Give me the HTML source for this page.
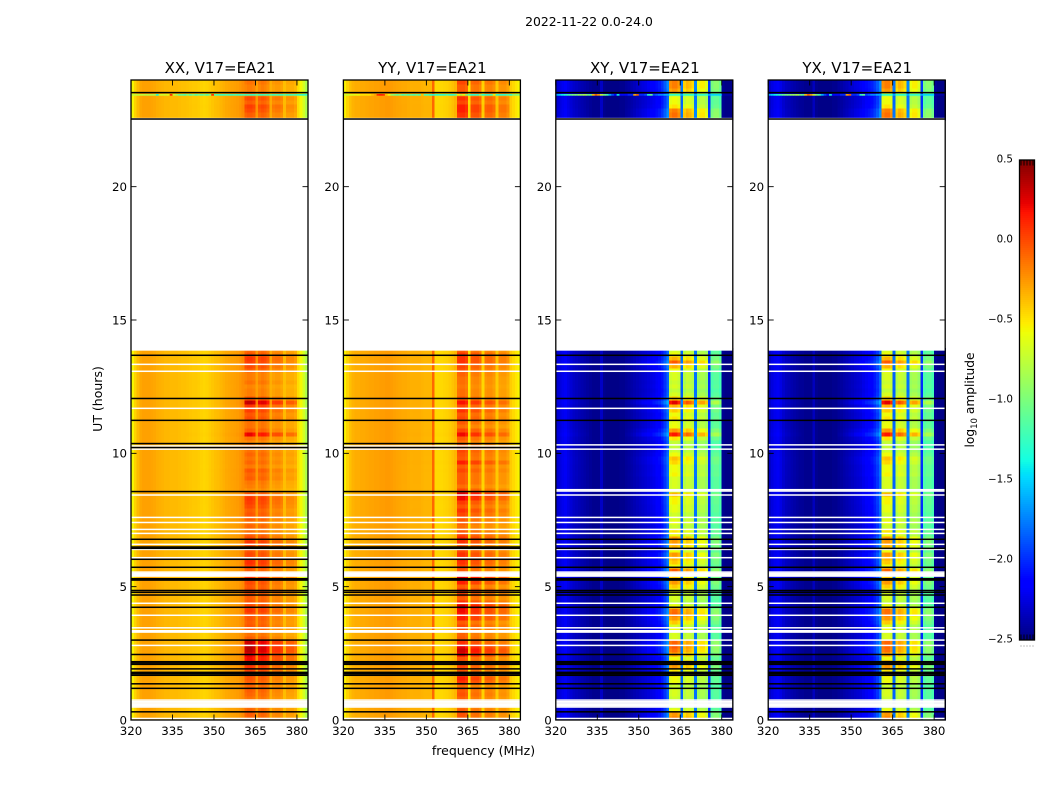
<!DOCTYPE html>
<html lang="en">
<head>
<meta charset="utf-8">
<title>2022-11-22 0.0-24.0</title>
<style>
html,body{margin:0;padding:0;background:#fff;}
svg{display:block;}
text{font-family:"DejaVu Sans","Liberation Sans",sans-serif;fill:#000;}
</style>
</head>
<body>
<svg id="chart" xmlns="http://www.w3.org/2000/svg" width="1050" height="800" viewBox="0 0 1050 800">
<rect width="1050" height="800" fill="#fff"/>
<text x="589" y="26" font-size="12.4" text-anchor="middle">2022-11-22 0.0-24.0</text>
<text transform="translate(102,399) rotate(-90)" font-size="12.5" text-anchor="middle">UT (hours)</text>
<text x="483.5" y="755" font-size="12.5" text-anchor="middle">frequency (MHz)</text>
<text transform="translate(974,400) rotate(-90)" font-size="12.2" text-anchor="middle">log<tspan font-size="8.6" dy="3">10</tspan><tspan dy="-3"> amplitude</tspan></text>
<g id="panels"></g>
<g id="colorbar"></g>
</svg>
<script>
// ---- chart data -------------------------------------------------------
const panelNames = ["XX, V17=EA21", "YY, V17=EA21", "XY, V17=EA21", "YX, V17=EA21"];
const xTickLabels = [320, 335, 350, 365, 380];
const yTickLabels = [0, 5, 10, 15, 20];
const colorbarTickLabels = [0.5, 0.0, -0.5, -1.0, -1.5, -2.0, -2.5];

// log10 amplitude per 1 MHz channel (320-384 MHz)
const profileXX = [-0.55,-0.44,-0.36,-0.30,-0.28,-0.28,-0.28,-0.29,-0.30,-0.32,-0.33,-0.34,-0.35,-0.35,-0.36,-0.36,-0.36,-0.37,-0.38,-0.38,-0.39,-0.40,-0.41,-0.41,-0.42,-0.44,-0.45,-0.44,-0.42,-0.40,-0.38,-0.37,-0.35,-0.33,-0.31,-0.30,-0.29,-0.28,-0.27,-0.25,-0.22,-0.22,-0.19,-0.19,-0.21,-0.28,-0.22,-0.19,-0.21,-0.25,-0.33,-0.30,-0.28,-0.28,-0.31,-0.38,-0.34,-0.34,-0.34,-0.37,-0.47,-0.56,-0.68,-0.82];
const profileYY = [-0.54,-0.44,-0.38,-0.34,-0.32,-0.32,-0.31,-0.31,-0.30,-0.29,-0.29,-0.28,-0.28,-0.27,-0.27,-0.26,-0.26,-0.27,-0.28,-0.29,-0.30,-0.31,-0.31,-0.32,-0.33,-0.33,-0.33,-0.33,-0.34,-0.35,-0.35,-0.35,-0.10,-0.46,-0.46,-0.46,-0.45,-0.44,-0.42,-0.39,-0.36,-0.20,-0.18,-0.18,-0.21,-0.52,-0.27,-0.25,-0.25,-0.29,-0.46,-0.29,-0.27,-0.27,-0.31,-0.42,-0.32,-0.31,-0.31,-0.35,-0.42,-0.46,-0.50,-0.55];
const profileXY = [-2.30,-2.26,-2.22,-2.20,-2.24,-2.28,-2.32,-2.34,-2.36,-2.38,-2.40,-2.42,-2.44,-2.46,-2.46,-2.46,-2.32,-2.46,-2.48,-2.48,-2.48,-2.48,-2.48,-2.46,-2.46,-2.44,-2.42,-2.40,-2.38,-2.36,-2.34,-2.32,-2.30,-2.28,-2.26,-2.24,-2.20,-2.16,-2.10,-2.00,-1.85,-0.78,-0.74,-0.74,-0.78,-1.85,-0.85,-0.78,-0.80,-0.85,-1.80,-0.92,-0.88,-0.88,-0.95,-2.00,-1.20,-1.15,-1.15,-1.22,-2.45,-2.48,-2.48,-2.48];
const profileYX = [-2.32,-2.26,-2.22,-2.20,-2.24,-2.30,-2.34,-2.36,-2.38,-2.40,-2.42,-2.44,-2.44,-2.46,-2.46,-2.46,-2.34,-2.46,-2.48,-2.48,-2.48,-2.48,-2.48,-2.46,-2.46,-2.44,-2.42,-2.40,-2.38,-2.36,-2.34,-2.32,-2.30,-2.28,-2.24,-2.21,-2.18,-2.14,-2.08,-2.00,-1.85,-0.78,-0.74,-0.74,-0.78,-1.85,-0.85,-0.78,-0.80,-0.85,-1.80,-0.92,-0.88,-0.88,-0.95,-2.00,-1.20,-1.15,-1.15,-1.22,-2.45,-2.48,-2.48,-2.48];

// how strongly each channel responds to the time-varying gain
const responseAuto = [0,0,0,0,0,0,0,0,0,0,0,0,0,0,0,0,0,0,0,0,0.02,0.02,0.02,0.02,0.02,0.03,0.03,0.03,0.03,0.03,0.03,0.03,0.03,0.04,0.04,0.04,0.04,0.04,0.05,0.05,0.10,1.3,1.3,1.3,1.2,0.3,1.1,1.1,1.1,1.0,0.2,0.85,0.85,0.85,0.8,0.15,0.7,0.7,0.7,0.6,0.05,0,0,0];
const responseCross = [0.05,0.05,0.05,0.05,0.05,0.05,0.05,0.05,0.03,0.03,0.03,0.03,0,0,0,0,0,0,0,0,0,0,0,0,0,0.05,0.05,0.08,0.1,0.15,0.15,0.2,0.2,0.25,0.25,0.3,0.3,0.3,0.35,0.4,0.4,1.6,1.65,1.65,1.5,0.2,1.2,1.25,1.2,1.1,0.2,0.95,1.0,1.0,0.9,0.1,0.55,0.6,0.6,0.5,0,0,0,0];

// gain per 0.15 h time bin, 0.0 h to 13.95 h
const gainLowerXX = [0.08,0.10,0.08,0.05,0.05,0.05,0.08,0.10,0.08,0.10,0.12,0.15,0.18,0.20,0.28,0.30,0.35,0.42,0.42,0.38,0.10,0.05,0.10,0.12,0.10,0.12,0.15,0.20,0.15,0.12,0.10,0.12,0.15,0.12,0.15,0.20,0.10,0.10,0.18,0.22,0.20,0.15,0.12,0.15,0.20,0.15,0.10,0.05,0.08,0.05,0.10,0.12,0.10,0.15,0.18,0.20,0.12,-0.02,0.02,0.04,0.10,0.08,0.12,0.03,0.08,0.05,0.08,0.05,0.03,0.00,0.05,0.32,0.10,0.05,0.05,0.15,0.12,0.18,0.20,0.40,0.12,0.02,0.02,0.00,0.05,0.02,0.02,0.10,0.15,0.18,0.20,0.12,0.08];
const gainLowerYY = [0.10,0.12,0.10,0.05,0.05,0.08,0.12,0.10,0.05,0.20,0.25,0.15,0.12,0.15,0.10,0.12,0.32,0.38,0.32,0.20,0.10,0.08,0.12,0.15,0.10,0.25,0.28,0.30,0.35,0.20,0.10,0.15,0.20,0.10,0.25,0.35,0.20,0.10,0.15,0.20,0.25,0.20,0.15,0.10,0.20,0.22,0.15,0.10,0.05,0.10,0.10,0.15,0.20,0.12,0.18,0.30,0.35,0.15,0.05,0.10,0.10,0.10,0.15,0.10,0.25,0.10,0.12,0.15,0.10,0.05,0.10,0.30,0.15,0.05,0.10,0.15,0.12,0.20,0.15,0.28,0.10,0.05,0.05,0.03,0.05,0.05,0.08,0.12,0.15,0.20,0.20,0.18,0.10];
const gainLowerXY = [0.35,0.30,0.10,0.00,0.00,0.02,0.05,0.05,0.02,0.10,0.10,0.15,0.15,0.30,0.35,0.10,0.28,0.38,0.42,0.40,0.05,0.05,0.10,0.05,0.20,0.30,0.40,0.38,0.10,0.00,0.05,0.05,0.10,0.20,0.30,0.20,0.35,0.42,0.10,0.20,0.25,0.30,0.10,0.25,0.30,0.30,0.10,0.15,0.02,0.10,0.05,0.03,0.08,0.08,0.12,0.12,0.25,0.00,0.05,0.05,0.05,0.12,0.10,0.10,0.18,0.22,0.10,0.02,0.00,0.00,0.15,0.55,0.30,0.10,0.08,0.15,0.10,0.20,0.25,0.60,0.20,0.05,0.00,0.05,0.02,0.05,0.05,0.10,0.25,0.42,0.25,0.10,0.05];
const gainLowerYX = [0.35,0.30,0.10,0.00,0.00,0.02,0.05,0.05,0.02,0.10,0.10,0.15,0.15,0.30,0.33,0.10,0.28,0.38,0.40,0.40,0.05,0.05,0.10,0.05,0.20,0.30,0.38,0.38,0.10,0.00,0.05,0.05,0.10,0.20,0.30,0.20,0.35,0.40,0.10,0.20,0.25,0.30,0.10,0.25,0.30,0.30,0.10,0.15,0.02,0.10,0.05,0.03,0.08,0.08,0.12,0.12,0.25,0.00,0.05,0.05,0.05,0.12,0.10,0.10,0.18,0.22,0.10,0.02,0.00,0.00,0.15,0.55,0.30,0.10,0.08,0.15,0.10,0.20,0.25,0.60,0.20,0.05,0.00,0.05,0.02,0.05,0.05,0.10,0.25,0.42,0.25,0.10,0.05];

// gain per 0.15 h time bin, 22.5 h to 24.0 h
const gainUpperXX = [0.10,0.10,0.15,0.18,0.10,0.15,0.05,0.02,0.02,0.05];
const gainUpperYY = [0.20,0.20,0.25,0.25,0.15,0.20,0.05,0.10,0.10,0.15];
const gainUpperXY = [0.38,0.38,0.35,0.15,0.10,0.10,0.00,0.30,0.35,0.35];
const gainUpperYX = [0.38,0.38,0.35,0.15,0.10,0.10,0.00,0.30,0.35,0.35];

// one bright interference integration near 23.5 h
const burstHour = 23.45;
const burstXX = [-0.75,-0.75,-0.75,-0.75,-0.75,-0.80,-0.80,-0.80,-0.80,-1.35,-0.70,-0.70,-0.70,-0.65,0.10,-0.70,-0.90,-1.10,-1.10,-1.20,-1.00,-1.15,-1.00,-1.20,-1.05,-1.15,-1.05,-1.20,-1.00,0.10,-1.20,-1.25,-1.25,-1.25,-1.20,-1.25,-1.25,-1.20,-1.25,-1.25,-1.20,-1.25,-1.20,-1.25,-1.25,-1.15,-1.25,-1.25,-1.20,-1.25,-1.15,-1.25,-1.20,-1.25,-1.25,-1.15,-1.25,-1.25,-1.20,-1.25,-1.30,-1.30,-1.30,-1.30];
const burstYY = [-0.70,-0.70,-0.65,-0.65,-0.60,-0.60,-0.50,-0.50,-0.50,-0.50,-0.40,-0.30,0.10,0.15,0.10,-0.40,-0.60,-0.90,-1.00,-1.10,-1.00,-1.20,-1.10,-1.20,-1.10,-1.20,-1.10,-1.20,-0.40,-1.20,-1.20,-1.30,-1.30,-1.30,-1.30,-1.30,-1.30,-1.20,-1.30,-1.30,-1.20,-0.60,-0.80,-0.60,-1.00,-1.20,-1.30,-1.30,-1.30,-1.00,-1.30,-1.30,-1.30,-1.20,-0.60,-1.30,-1.30,-1.30,-1.30,-1.20,-1.30,-1.00,-1.00,-1.00];
const burstXY = [-1.60,-1.50,-1.40,-1.30,-1.20,-1.10,-1.00,-1.00,-0.90,-0.90,-0.80,-1.00,-1.10,-0.40,-0.10,-0.30,-0.70,-1.00,-1.20,-1.60,-1.90,-2.10,-1.40,-2.10,-2.10,-2.10,-2.00,-2.00,-0.30,-0.10,-2.00,-2.00,-1.90,-1.30,-1.10,-1.90,-1.80,-1.70,-1.70,-1.60,-1.60,-1.30,-1.30,-1.30,-1.30,-1.60,-1.30,-1.30,-1.30,-1.30,-1.60,-1.30,-1.30,-1.30,-1.30,-1.60,-1.50,-1.50,-1.50,-1.50,-2.40,-2.40,-2.40,-2.40];
const burstYX = [-1.60,-1.50,-1.40,-1.30,-1.20,-1.10,-1.00,-1.00,-0.90,-0.90,-0.80,-1.00,-1.10,-0.40,-0.10,-0.30,-0.70,-1.00,-1.20,-1.60,-1.90,-2.10,-1.40,-2.10,-2.10,-2.10,-2.00,-2.00,-0.30,-0.10,-2.00,-2.00,-1.90,-1.30,-1.10,-1.90,-1.80,-1.70,-1.70,-1.60,-1.60,-1.30,-1.30,-1.30,-1.30,-1.60,-1.30,-1.30,-1.30,-1.30,-1.60,-1.30,-1.30,-1.30,-1.30,-1.60,-1.50,-1.50,-1.50,-1.50,-2.40,-2.40,-2.40,-2.40];

// flagged integrations (hours): missing samples draw white, zero samples draw black
const missingHoursAuto = [13.34,13.08,11.69,10.28,10.16,8.44,7.60,7.41,7.15,7.00,6.59,6.40,6.09,5.55,5.50,5.45,5.40,4.38,3.93,3.46,3.35,3.30,2.80,0.75,0.69,0.64,0.59,0.54,0.49,0.06];
const missingHoursCross = [13.34,13.08,11.69,10.32,10.16,8.64,8.59,8.44,7.60,7.41,7.15,7.00,6.59,6.40,6.09,5.55,5.50,5.45,5.40,4.38,3.93,3.46,3.35,3.30,3.00,2.80,0.75,0.69,0.64,0.59,0.54,0.49,0.06];
const zeroHoursAuto = [23.53,22.54,13.68,12.06,11.24,10.37,10.22,8.57,6.78,6.49,6.44,6.03,5.73,5.30,5.25,4.86,4.79,4.69,4.23,3.00,2.46,2.19,2.14,2.09,1.92,1.79,1.74,1.68,1.36,1.19,0.31];
const zeroHoursCross = [23.53,22.54,13.68,12.06,11.24,6.78,6.44,5.73,5.30,5.25,4.86,4.79,4.69,4.23,2.46,2.19,2.14,2.09,1.92,1.79,1.74,1.68,1.36,1.19,0.31];

// blank observing gap (hours)
const gapStartHour = 13.85;
const gapEndHour = 22.58;

// ---- axis functions ---------------------------------------------------
const SVGNS = "http://www.w3.org/2000/svg";
const PANEL_W = 177, PANEL_TOP = 80, PANEL_BOTTOM = 720;
const HOUR_BIN = 0.15, SAMPLE_H = 0.05;
function panelLeft(p) { return 131 + 212.4 * p; }
function xScale(p, mhz) { return panelLeft(p) + (mhz - 320) * PANEL_W / 64; }
function yScale(h) { return PANEL_BOTTOM - h * (PANEL_BOTTOM - PANEL_TOP) / 24; }
function cbarScale(v) { return 160 + (0.5 - v) * 160; }

function seg(t, pts) {
  for (let i = 1; i < pts.length; i++) {
    if (t <= pts[i][0]) {
      const a = pts[i - 1], b = pts[i];
      return a[1] + (b[1] - a[1]) * (t - a[0]) / (b[0] - a[0]);
    }
  }
  return pts[pts.length - 1][1];
}
function jet(v) {
  const t = Math.max(0, Math.min(1, (v + 2.5) / 3));
  const r = seg(t, [[0, 0], [0.35, 0], [0.66, 1], [0.89, 1], [1, 0.5]]);
  const g = seg(t, [[0, 0], [0.125, 0], [0.375, 1], [0.64, 1], [0.91, 0], [1, 0]]);
  const b = seg(t, [[0, 0.5], [0.11, 1], [0.34, 1], [0.65, 0], [1, 0]]);
  return "rgb(" + Math.round(r * 255) + "," + Math.round(g * 255) + "," + Math.round(b * 255) + ")";
}
function make(tag, parent, geom) {
  const el = document.createElementNS(SVGNS, tag);
  for (const k in geom) el.setAttribute(k, geom[k]);
  parent.appendChild(el);
  return el;
}

// ---- drawing ----------------------------------------------------------
const panelProfiles = [profileXX, profileYY, profileXY, profileYX];
const panelResponses = [responseAuto, responseAuto, responseCross, responseCross];
const panelLower = [gainLowerXX, gainLowerYY, gainLowerXY, gainLowerYX];
const panelUpper = [gainUpperXX, gainUpperYY, gainUpperXY, gainUpperYX];
const panelBursts = [burstXX, burstYY, burstXY, burstYX];
const panelMissing = [missingHoursAuto, missingHoursAuto, missingHoursCross, missingHoursCross];
const panelZero = [zeroHoursAuto, zeroHoursAuto, zeroHoursCross, zeroHoursCross];
const root = document.getElementById("panels");

function drawBlock(g, p, gains, startHour) {
  const profile = panelProfiles[p], resp = panelResponses[p];
  gains.forEach(function (gain, row) {
    const top = yScale(startHour + (row + 1) * HOUR_BIN);
    const bottom = yScale(startHour + row * HOUR_BIN);
    profile.forEach(function (val, ch) {
      const x0 = xScale(p, 320 + ch), x1 = xScale(p, 321 + ch);
      const cell = make("rect", g, {
        x: x0.toFixed(2), y: top.toFixed(2),
        width: (x1 - x0 + 0.6).toFixed(2), height: (bottom - top + 0.6).toFixed(2),
        fill: jet(val + resp[ch] * gain), "shape-rendering": "crispEdges"
      });
      
      
    });
  });
}

panelNames.forEach(function (name, p) {
  const left = panelLeft(p), g = make("g", root, {});
  
  

  const cells = make("g", g, {});
  
  
  drawBlock(cells, p, panelLower[p], 0);
  drawBlock(cells, p, panelUpper[p], 22.5);

  panelBursts[p].forEach(function (val, ch) {
    const x0 = xScale(p, 320 + ch), x1 = xScale(p, 321 + ch);
    const b = make("rect", cells, {
      x: x0.toFixed(2), y: yScale(burstHour).toFixed(2) - 0.6,
      width: (x1 - x0 + 0.4).toFixed(2), height: 1.6, fill: jet(val)
    });
    
    
  });

  const gap = make("rect", g, {
    x: left, y: yScale(gapEndHour), width: PANEL_W,
    height: yScale(gapStartHour) - yScale(gapEndHour), fill: "#fff"
  });
  
  

  panelMissing[p].forEach(function (h) {
    const r = make("rect", g, { x: left, y: yScale(h + SAMPLE_H / 2), width: PANEL_W, height: 1.5, fill: "#fff" });
    
    
  });
  panelZero[p].forEach(function (h) {
    const r = make("rect", g, { x: left, y: yScale(h + SAMPLE_H / 2), width: PANEL_W, height: 1.5, fill: "#000" });
    
    
  });

  const frame = make("rect", g, {
    x: left, y: PANEL_TOP, width: PANEL_W, height: PANEL_BOTTOM - PANEL_TOP,
    fill: "none", stroke: "#000", "stroke-width": 1.3
  });
  
  

  xTickLabels.forEach(function (t) {
    const x = xScale(p, t);
    const bot = make("line", g, { x1: x, x2: x, y1: PANEL_BOTTOM, y2: PANEL_BOTTOM - 5.5, stroke: "#000", "stroke-width": 0.9 });
    
    
    const top = make("line", g, { x1: x, x2: x, y1: PANEL_TOP, y2: PANEL_TOP + 5.5, stroke: "#000", "stroke-width": 0.9 });
    
    
    const lab = make("text", g, { x: x, y: 735, "font-size": 11.8, "text-anchor": "middle" });
    lab.textContent = t;
    
    
  });

  yTickLabels.forEach(function (t) {
    const y = yScale(t);
    const l = make("line", g, { x1: left, x2: left + 5.5, y1: y, y2: y, stroke: "#000", "stroke-width": 0.9 });
    
    
    const r = make("line", g, { x1: left + PANEL_W, x2: left + PANEL_W - 5.5, y1: y, y2: y, stroke: "#000", "stroke-width": 0.9 });
    
    
    const lab = make("text", g, { x: left - 4, y: y + 4.3, "font-size": 11.8, "text-anchor": "end" });
    lab.textContent = t;
    
    
  });

  const title = make("text", g, { x: left + PANEL_W / 2 + 0.5, y: 73, "font-size": 15, "text-anchor": "middle" });
  title.textContent = name;
  
  
});

// colorbar
const cb = document.getElementById("colorbar");


for (let y = 160; y < 640; y += 2) {
  const v = 0.5 - (y + 1 - 160) / 160;
  const s = make("rect", cb, { x: 1019.5, y: y, width: 15, height: 2.4, fill: jet(v), "shape-rendering": "crispEdges" });
  
  
}
for (let x = 1021; x <= 1033; x += 3) {
  const a = make("line", cb, { x1: x, x2: x, y1: 160, y2: 165.5, stroke: "#000", "stroke-width": 0.9 });
  
  
  const b = make("line", cb, { x1: x, x2: x, y1: 640, y2: 634.5, stroke: "#000", "stroke-width": 0.9 });
  
  
  const d = make("rect", cb, { x: x - 0.5, y: 645.5, width: 1, height: 1, fill: "#888" });
  
  
}
const cbFrame = make("rect", cb, { x: 1019.5, y: 160, width: 15, height: 480, fill: "none", stroke: "#000", "stroke-width": 1.3 });


colorbarTickLabels.forEach(function (t) {
  const lab = make("text", cb, { x: 1013, y: cbarScale(t) + 2.5, "font-size": 10.3, "text-anchor": "end" });
  lab.textContent = t.toFixed(1).replace("-", "\u2212");
  
  
});
</script>
</body>
</html>
